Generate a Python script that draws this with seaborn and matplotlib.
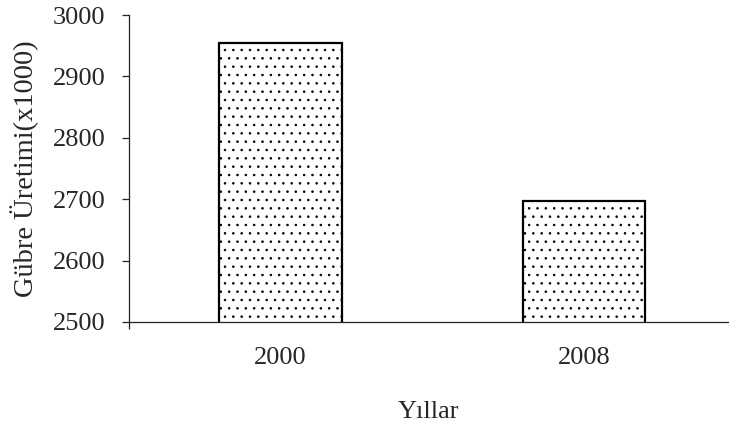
import matplotlib
matplotlib.use("Agg")
import matplotlib.pyplot as plt
import seaborn as sns
import pandas as pd

years = ["2000", "2008"]
production = [2955, 2697]
y_ticks = [2500, 2600, 2700, 2800, 2900, 3000]
x_title = "Yıllar"
y_title = "Gübre Üretimi(x1000)"

sns.set_theme(style="white")
plt.rcParams["font.family"] = ["Liberation Serif", "DejaVu Serif"]
plt.rcParams["hatch.linewidth"] = 0.6
plt.rcParams["hatch.color"] = "#666666"

df = pd.DataFrame({"Yıl": years, "Üretim": production})

fig = plt.figure(figsize=(7.29, 4.28), dpi=100)
ax = fig.add_axes([129 / 729, 1 - 322 / 428, 600 / 729, 307 / 428])

sns.barplot(data=df, x="Yıl", y="Üretim", color="white", edgecolor="black",
            linewidth=1.6, width=0.405, ax=ax, saturation=1)
for p in ax.patches:
    p.set_hatch("..")

ax.set_ylim(2500, 3000)
ax.set_xlim(-0.5, 1.478)
ax.set_yticks(y_ticks)
ax.set_yticklabels([str(v) for v in y_ticks])

for s in ["top", "right"]:
    ax.spines[s].set_visible(False)
for s in ["left", "bottom"]:
    ax.spines[s].set_color("#222222")
    ax.spines[s].set_linewidth(0.9)

ax.tick_params(axis="y", which="major", direction="out", length=5, width=0.9,
               color="#222222", left=True, labelsize=19, pad=12)
ax.tick_params(axis="x", which="major", length=0, labelsize=19, pad=18)
ax.set_xticks([-0.5], minor=True)
ax.tick_params(axis="x", which="minor", direction="out", length=5, width=0.9,
               color="#222222", bottom=True)

ax.set_xlabel(x_title, fontsize=19, labelpad=23)
ax.set_ylabel(y_title, fontsize=20.5)
ax.yaxis.set_label_coords(-0.15, 0.5)

fig.savefig("out.png", dpi=100)
